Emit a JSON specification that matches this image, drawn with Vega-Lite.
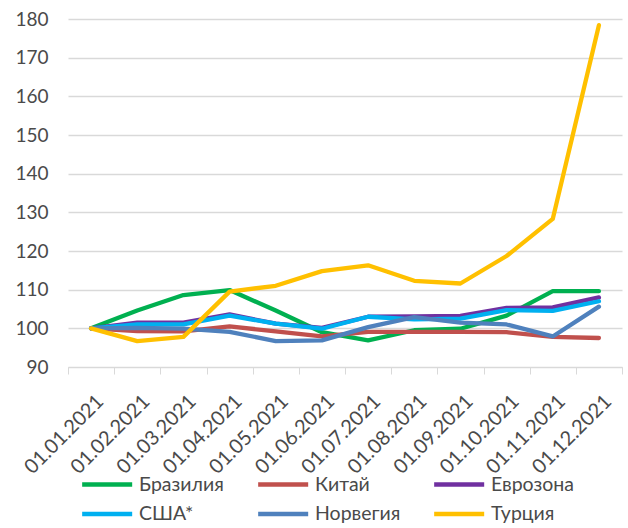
{
  "$schema": "https://vega.github.io/schema/vega-lite/v6.json",
  "width": 554,
  "height": 348,
  "autosize": {"type": "none"},
  "padding": {"left": 68, "top": 19, "right": 6, "bottom": 161},
  "background": "white",
  "config": {
    "view": {"stroke": null},
    "font": "Lato",
    "axis": {"labelFont": "Lato", "labelColor": "#4a4a4a"}
  },
  "data": {
    "values": [
      {"d": "01.01.2021", "c": "Бразилия", "v": 100},
      {"d": "01.02.2021", "c": "Бразилия", "v": 104.6},
      {"d": "01.03.2021", "c": "Бразилия", "v": 108.6},
      {"d": "01.04.2021", "c": "Бразилия", "v": 109.9},
      {"d": "01.05.2021", "c": "Бразилия", "v": 104.6},
      {"d": "01.06.2021", "c": "Бразилия", "v": 99},
      {"d": "01.07.2021", "c": "Бразилия", "v": 96.9},
      {"d": "01.08.2021", "c": "Бразилия", "v": 99.5},
      {"d": "01.09.2021", "c": "Бразилия", "v": 99.9},
      {"d": "01.10.2021", "c": "Бразилия", "v": 103.3},
      {"d": "01.11.2021", "c": "Бразилия", "v": 109.6},
      {"d": "01.12.2021", "c": "Бразилия", "v": 109.6},

      {"d": "01.01.2021", "c": "Китай", "v": 100},
      {"d": "01.02.2021", "c": "Китай", "v": 99.3},
      {"d": "01.03.2021", "c": "Китай", "v": 99.2},
      {"d": "01.04.2021", "c": "Китай", "v": 100.5},
      {"d": "01.05.2021", "c": "Китай", "v": 99.2},
      {"d": "01.06.2021", "c": "Китай", "v": 97.9},
      {"d": "01.07.2021", "c": "Китай", "v": 99.1},
      {"d": "01.08.2021", "c": "Китай", "v": 99.1},
      {"d": "01.09.2021", "c": "Китай", "v": 99.1},
      {"d": "01.10.2021", "c": "Китай", "v": 99},
      {"d": "01.11.2021", "c": "Китай", "v": 97.8},
      {"d": "01.12.2021", "c": "Китай", "v": 97.5},

      {"d": "01.01.2021", "c": "Еврозона", "v": 100},
      {"d": "01.02.2021", "c": "Еврозона", "v": 101.5},
      {"d": "01.03.2021", "c": "Еврозона", "v": 101.5},
      {"d": "01.04.2021", "c": "Еврозона", "v": 103.6},
      {"d": "01.05.2021", "c": "Еврозона", "v": 101.2},
      {"d": "01.06.2021", "c": "Еврозона", "v": 100.1},
      {"d": "01.07.2021", "c": "Еврозона", "v": 103},
      {"d": "01.08.2021", "c": "Еврозона", "v": 103.1},
      {"d": "01.09.2021", "c": "Еврозона", "v": 103.2},
      {"d": "01.10.2021", "c": "Еврозона", "v": 105.3},
      {"d": "01.11.2021", "c": "Еврозона", "v": 105.4},
      {"d": "01.12.2021", "c": "Еврозона", "v": 108},

      {"d": "01.01.2021", "c": "США*", "v": 100},
      {"d": "01.02.2021", "c": "США*", "v": 101},
      {"d": "01.03.2021", "c": "США*", "v": 101},
      {"d": "01.04.2021", "c": "США*", "v": 103.3},
      {"d": "01.05.2021", "c": "США*", "v": 101.2},
      {"d": "01.06.2021", "c": "США*", "v": 99.9},
      {"d": "01.07.2021", "c": "США*", "v": 103},
      {"d": "01.08.2021", "c": "США*", "v": 102.3},
      {"d": "01.09.2021", "c": "США*", "v": 102.5},
      {"d": "01.10.2021", "c": "США*", "v": 104.7},
      {"d": "01.11.2021", "c": "США*", "v": 104.5},
      {"d": "01.12.2021", "c": "США*", "v": 107},

      {"d": "01.01.2021", "c": "Норвегия", "v": 100},
      {"d": "01.02.2021", "c": "Норвегия", "v": 100.1},
      {"d": "01.03.2021", "c": "Норвегия", "v": 99.9},
      {"d": "01.04.2021", "c": "Норвегия", "v": 99.1},
      {"d": "01.05.2021", "c": "Норвегия", "v": 96.7},
      {"d": "01.06.2021", "c": "Норвегия", "v": 96.9},
      {"d": "01.07.2021", "c": "Норвегия", "v": 100.3},
      {"d": "01.08.2021", "c": "Норвегия", "v": 102.9},
      {"d": "01.09.2021", "c": "Норвегия", "v": 101.5},
      {"d": "01.10.2021", "c": "Норвегия", "v": 101},
      {"d": "01.11.2021", "c": "Норвегия", "v": 97.9},
      {"d": "01.12.2021", "c": "Норвегия", "v": 105.6},

      {"d": "01.01.2021", "c": "Турция", "v": 100},
      {"d": "01.02.2021", "c": "Турция", "v": 96.7},
      {"d": "01.03.2021", "c": "Турция", "v": 97.8},
      {"d": "01.04.2021", "c": "Турция", "v": 109.5},
      {"d": "01.05.2021", "c": "Турция", "v": 111},
      {"d": "01.06.2021", "c": "Турция", "v": 114.8},
      {"d": "01.07.2021", "c": "Турция", "v": 116.3},
      {"d": "01.08.2021", "c": "Турция", "v": 112.3},
      {"d": "01.09.2021", "c": "Турция", "v": 111.6},
      {"d": "01.10.2021", "c": "Турция", "v": 118.7},
      {"d": "01.11.2021", "c": "Турция", "v": 128.3},
      {"d": "01.12.2021", "c": "Турция", "v": 178.4}
    ]
  },
  "mark": {"type": "line", "strokeWidth": 4.3, "strokeJoin": "round", "strokeCap": "round"},
  "encoding": {
    "x": {
      "field": "d", "type": "ordinal", "sort": null, "title": null,
      "scale": {"paddingInner": 0, "paddingOuter": 0},
      "axis": {
        "labelAngle": -45, "labelAlign": "right", "labelBaseline": "middle",
        "labelFontSize": 20, "labelPadding": 24, "labelOffset": 9,
        "tickBand": "extent", "ticks": true, "tickSize": 7, "tickColor": "#D9D9D9",
        "domain": true, "domainColor": "#D9D9D9", "grid": false
      }
    },
    "y": {
      "field": "v", "type": "quantitative", "title": null,
      "scale": {"domain": [90, 180], "nice": false, "zero": false},
      "axis": {
        "values": [90, 100, 110, 120, 130, 140, 150, 160, 170, 180],
        "labelFontSize": 19,
        "domain": false, "ticks": false, "grid": true, "gridColor": "#D9D9D9",
        "gridWidth": 1.3, "labelPadding": 20
      }
    },
    "color": {
      "field": "c", "type": "nominal",
      "scale": {
        "domain": ["Бразилия", "Китай", "Еврозона", "США*", "Норвегия", "Турция"],
        "range": ["#00B050", "#C0504D", "#7030A0", "#00B0F0", "#4F81BD", "#FFC000"]
      },
      "legend": {
        "title": null, "orient": "none", "legendX": 12, "legendY": 455,
        "direction": "horizontal", "columns": 3, "symbolType": "M-1,0H5",
        "symbolSize": 278, "symbolStrokeWidth": 4.3, "symbolFillColor": "transparent",
        "labelFontSize": 19.5,
        "labelFont": "Lato", "labelColor": "#4a4a4a", "labelOffset": 38,
        "columnPadding": 24, "rowPadding": 9.5, "gridAlign": "all"
      }
    }
  }
}
